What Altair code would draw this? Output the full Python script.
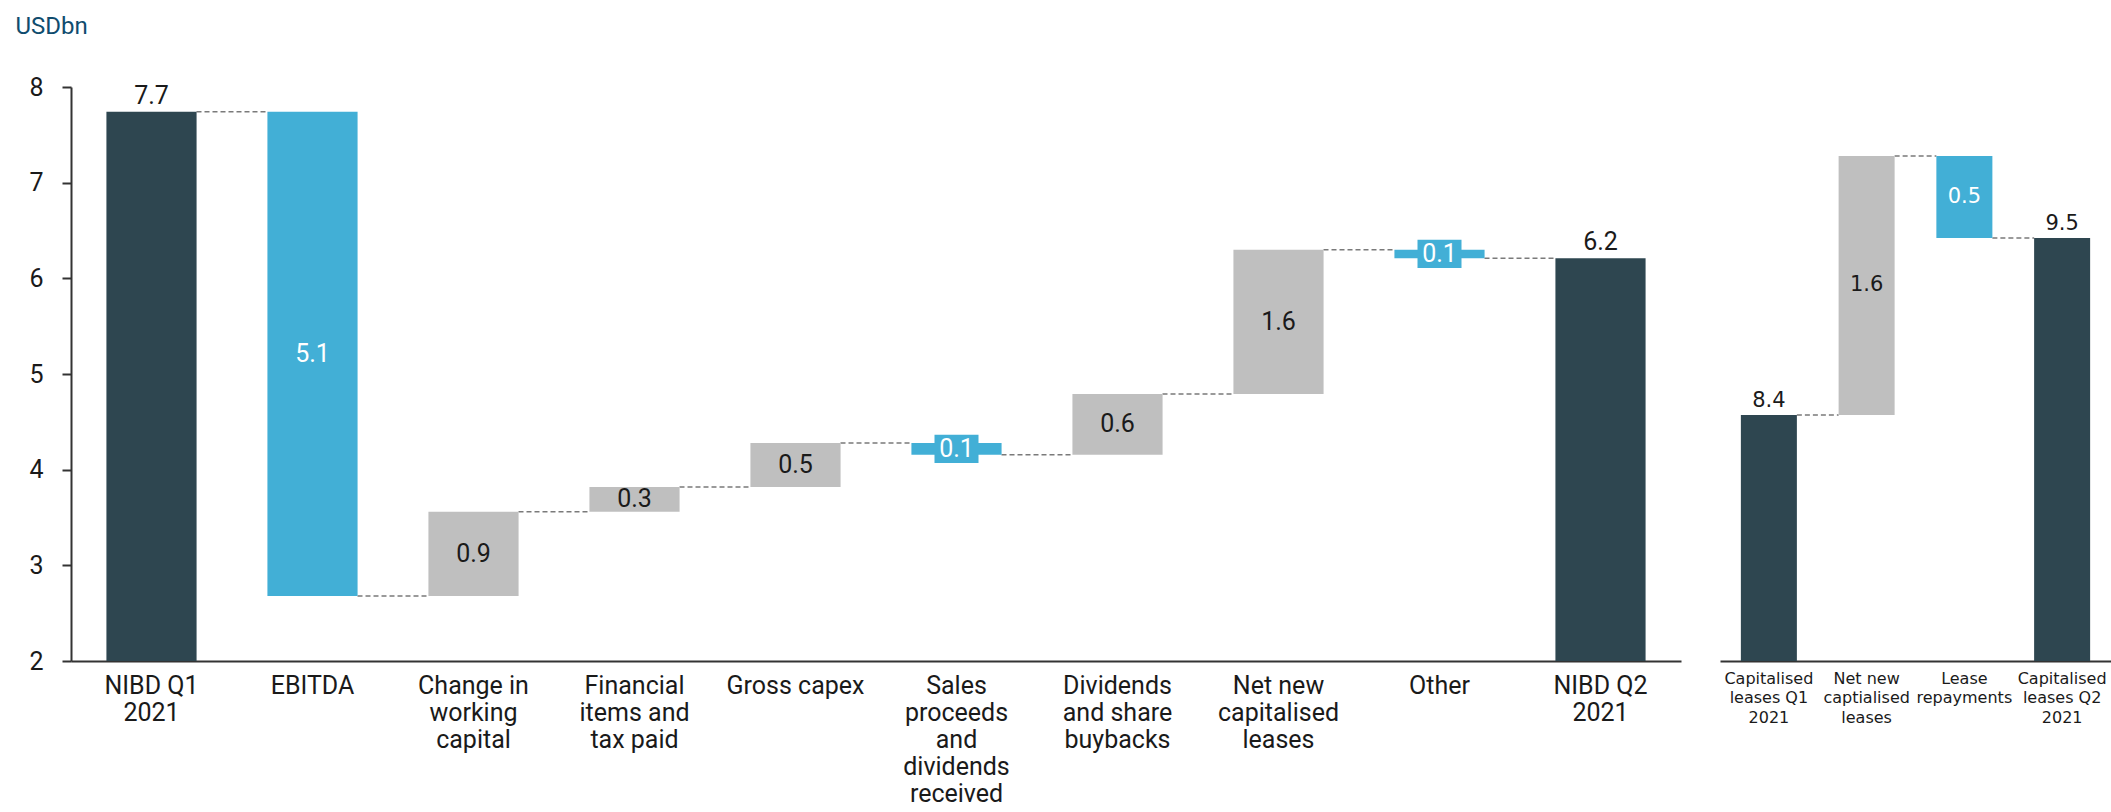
import altair as alt
import pandas as pd

# ---------------- data ----------------
LEFT_CATEGORIES = [
    "NIBD Q1|2021", "EBITDA", "Change in|working|capital", "Financial|items and|tax paid",
    "Gross capex", "Sales|proceeds|and|dividends|received", "Dividends|and share|buybacks",
    "Net new|capitalised|leases", "Other", "NIBD Q2|2021",
]
LEFT_KINDS = ["total", "down", "up", "up", "up", "down", "up", "up", "down", "total"]
LEFT_LEVELS = [7.74, 2.68, 3.56, 3.82, 4.28, 4.155, 4.79, 6.30, 6.21, 6.21]
LEFT_LABELS = ["7.7", "5.1", "0.9", "0.3", "0.5", "0.1", "0.6", "1.6", "0.1", "6.2"]
LEFT_Y_DOMAIN = [2, 8]
LEFT_Y_TICKS = [2, 3, 4, 5, 6, 7, 8]

RIGHT_CATEGORIES = [
    "Capitalised|leases Q1|2021", "Net new|captialised|leases",
    "Lease|repayments", "Capitalised|leases Q2|2021",
]
RIGHT_KINDS = ["total", "up", "down", "total"]
RIGHT_LEVELS = [8.40, 9.98, 9.48, 9.48]
RIGHT_LABELS = ["8.4", "1.6", "0.5", "9.5"]
RIGHT_Y_DOMAIN = [6.9, 10.4]

DARK = "#2e4650"
BLUE = "#42afd6"
GREY = "#bfbfbf"
TEXT = "#1a1a1a"
AXIS = "#333333"


def frames(cats, kinds, levels, labels, base):
    rows = []
    prev = None
    for c, k, lv, lb in zip(cats, kinds, levels, labels):
        start = base if k == "total" else prev
        rows.append(dict(cat=c, kind=k, start=start, end=lv, mid=(start + lv) / 2,
                         label=lb, small=abs(lv - start) < 0.2))
        prev = lv
    bars = pd.DataFrame(rows)
    conn = pd.DataFrame({"cat": cats[:-1], "to": cats[1:], "level": levels[:-1]})
    return bars, conn


def panel(cats, kinds, levels, labels, domain, *, width, height, inner, half_bar,
          font, axis_font_size, value_font_size, line_height, label_padding, yaxis,
          box_size):
    bars, conn = frames(cats, kinds, levels, labels, domain[0])
    xscale = alt.Scale(domain=cats, paddingInner=inner, paddingOuter=inner / 2)
    yscale = alt.Scale(domain=domain, nice=False, zero=False)
    xaxis = alt.Axis(title=None, labelExpr="split(datum.label, '|')", labelAngle=0,
                     ticks=False, domainColor=AXIS, domainWidth=2, labelFont=font,
                     labelFontSize=axis_font_size, labelLineHeight=line_height,
                     labelColor=TEXT, labelPadding=label_padding, labelLimit=0,
                     labelBaseline="top")

    def X():
        return alt.X("cat:N", scale=xscale, axis=xaxis)

    def Y(field):
        return alt.Y(field, scale=yscale, axis=yaxis)

    bar_layer = alt.Chart(bars).mark_bar().encode(
        x=X(), y=Y("start:Q"), y2="end:Q",
        color=alt.Color("kind:N", scale=alt.Scale(domain=["total", "up", "down"],
                                                  range=[DARK, GREY, BLUE]), legend=None),
    )
    conn_layer = alt.Chart(conn).mark_rule(
        color="#7a7a7a", strokeWidth=1.5, strokeDash=[5, 3],
        xOffset=half_bar, x2Offset=-half_bar,
    ).encode(x=X(), x2="to:N", y=Y("level:Q"))
    total_text = alt.Chart(bars).transform_filter(alt.datum.kind == "total").mark_text(
        baseline="alphabetic", dy=-8, font=font, fontSize=value_font_size, color=TEXT,
    ).encode(x=X(), y=Y("end:Q"), text="label:N")
    up_text = alt.Chart(bars).transform_filter(alt.datum.kind == "up").mark_text(
        baseline="middle", font=font, fontSize=value_font_size, color=TEXT,
    ).encode(x=X(), y=Y("mid:Q"), text="label:N")
    box = alt.Chart(bars).transform_filter(
        (alt.datum.kind == "down") & alt.datum.small
    ).mark_point(
        shape="M-1,-0.64L1,-0.64L1,0.64L-1,0.64Z", filled=True, opacity=1,
        size=box_size, color=BLUE,
    ).encode(x=X(), y=Y("mid:Q"))
    down_text = alt.Chart(bars).transform_filter(alt.datum.kind == "down").mark_text(
        baseline="middle", font=font, fontSize=value_font_size, color="white",
    ).encode(x=X(), y=Y("mid:Q"), text="label:N")

    return alt.layer(conn_layer, bar_layer, box, total_text, up_text, down_text).properties(
        width=width, height=height)


LEFT_FONT = "Roboto"
RIGHT_FONT = "DejaVu Sans"

left_yaxis = alt.Axis(
    values=LEFT_Y_TICKS, grid=False, tickSize=9, tickWidth=2, tickColor=AXIS,
    domainColor=AXIS, domainWidth=2, labelFont=LEFT_FONT, labelFontSize=25,
    labelColor=TEXT, labelPadding=19, title="USDbn", titleAngle=0, titleAlign="left",
    titleBaseline="alphabetic", titleX=-56, titleY=-54, titleFont=LEFT_FONT,
    titleFontSize=24, titleFontWeight="normal", titleColor="#0f4c6e",
)

left = panel(LEFT_CATEGORIES, LEFT_KINDS, LEFT_LEVELS, LEFT_LABELS, LEFT_Y_DOMAIN,
             width=1610, height=574, inner=0.44, half_bar=45, font=LEFT_FONT,
             axis_font_size=25, value_font_size=25, line_height=27, label_padding=12,
             yaxis=left_yaxis, box_size=1936)

right = panel(RIGHT_CATEGORIES, RIGHT_KINDS, RIGHT_LEVELS, RIGHT_LABELS, RIGHT_Y_DOMAIN,
              width=391, height=574, inner=0.427, half_bar=28, font=RIGHT_FONT,
              axis_font_size=16, value_font_size=21, line_height=19.5, label_padding=9,
              yaxis=None, box_size=1600)

chart = alt.hconcat(left, right, spacing=39, bounds="flush").properties(
    padding={"left": 15, "top": 14, "right": 0, "bottom": 0}
).configure_view(stroke=None)

chart.save("out.html", embed_options={"renderer": "svg", "actions": False})
